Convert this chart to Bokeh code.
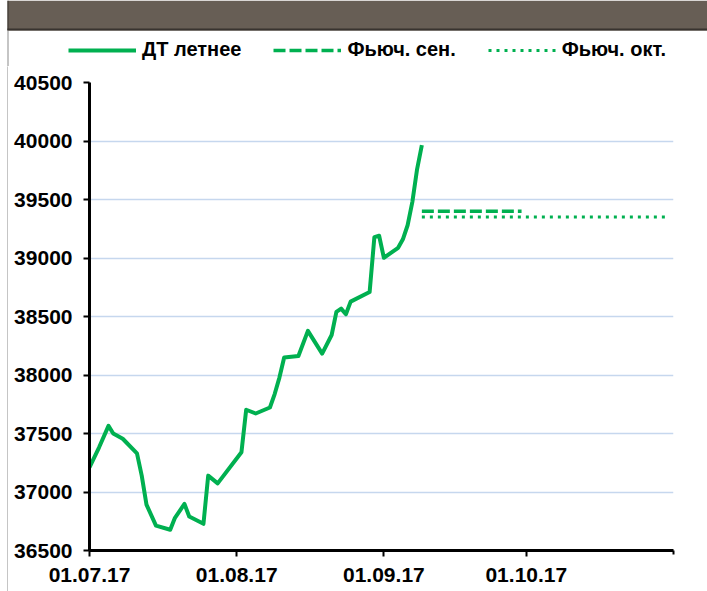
import pandas as pd
from bokeh.plotting import figure
from bokeh.models import (Range1d, FixedTicker, Legend, LegendItem, BoxAnnotation,
                          DatetimeTickFormatter)
from bokeh.layouts import column, row
from bokeh.embed import file_html
from bokeh.resources import INLINE

# ---------------- data ----------------
dt_dates = ["2017-07-01", "2017-07-03", "2017-07-05", "2017-07-06", "2017-07-08",
            "2017-07-11", "2017-07-12", "2017-07-13", "2017-07-15", "2017-07-18",
            "2017-07-19", "2017-07-21", "2017-07-22", "2017-07-25", "2017-07-26",
            "2017-07-28", "2017-08-02", "2017-08-03", "2017-08-05", "2017-08-08",
            "2017-08-09", "2017-08-10", "2017-08-11", "2017-08-14", "2017-08-16",
            "2017-08-19", "2017-08-21", "2017-08-22", "2017-08-23", "2017-08-24",
            "2017-08-25", "2017-08-29", "2017-08-30", "2017-08-31", "2017-09-01",
            "2017-09-04", "2017-09-05", "2017-09-06", "2017-09-07", "2017-09-08",
            "2017-09-09"]
dt_values = [37210, 37380, 37565, 37500, 37455,
             37330, 37140, 36892, 36713, 36677,
             36779, 36898, 36790, 36728, 37140,
             37074, 37339, 37703, 37671, 37722,
             37837, 37978, 38149, 38163, 38377,
             38183, 38342, 38539, 38567, 38519,
             38627, 38709, 39178, 39190, 39002,
             39087, 39160, 39280, 39480, 39760,
             39965]

fut_sep_dates = ["2017-09-09", "2017-09-30"]
fut_sep_values = [39400, 39400]
fut_oct_dates = ["2017-09-09", "2017-10-31"]
fut_oct_values = [39350, 39350]

series_names = ["ДТ летнее", "Фьюч. сен.", "Фьюч. окт."]

x_start = "2017-07-01"
x_end = "2017-11-01"
x_tick_dates = ["2017-07-01", "2017-08-01", "2017-09-01", "2017-10-01"]
x_tick_labels = ["01.07.17", "01.08.17", "01.09.17", "01.10.17"]
y_ticks = [36500, 37000, 37500, 38000, 38500, 39000, 39500, 40000, 40500]

GREEN = "#00b050"
FONT = "Liberation Sans"
SEP_STYLE = dict(line_color=GREEN, line_width=3.5, line_dash="12 4")
OCT_STYLE = dict(line_color=GREEN, line_width=3, line_dash="3 5")
DT_STYLE = dict(line_color=GREEN, line_width=4, line_join="round")
HEADER_BG = "#675e55"
HEADER_EDGE = "#38332f"
FRAME_GREY = "#8c8c8c"


def ms(s):
    return float(pd.Timestamp(s).value // 10**6)


def bare(w, h, **kw):
    f = figure(width=w, height=h, output_backend="svg", toolbar_location=None,
               x_axis_location=None, y_axis_location=None, **kw)
    f.outline_line_color = None
    f.xgrid.visible = False
    f.ygrid.visible = False
    return f


# ---------------- top strip: header bar + legend ----------------
TOP_W, TOP_H = 707, 66
top = bare(TOP_W, TOP_H, min_border=0, x_range=Range1d(0, TOP_W),
           y_range=Range1d(0, TOP_H), background_fill_color="white",
           border_fill_color="white")
top.add_layout(BoxAnnotation(left=7, right=TOP_W, bottom=TOP_H - 30, top=TOP_H,
                             fill_color=HEADER_BG, fill_alpha=1, line_color=None))
top.add_layout(BoxAnnotation(left=7, right=TOP_W, bottom=TOP_H - 30, top=TOP_H - 28,
                             fill_color=HEADER_EDGE, fill_alpha=1, line_color=None))
top.add_layout(BoxAnnotation(left=7, right=8, bottom=TOP_H - 30, top=TOP_H,
                             fill_color=HEADER_EDGE, fill_alpha=1, line_color=None))
top.add_layout(BoxAnnotation(left=7, right=8, bottom=0, top=TOP_H - 30,
                             fill_color=FRAME_GREY, fill_alpha=1, line_color=None))

nan = float("nan")
k_dt = top.line(x=[nan], y=[nan], **DT_STYLE)
k_sep = top.line(x=[nan], y=[nan], **SEP_STYLE)
k_oct = top.line(x=[nan], y=[nan], **OCT_STYLE)
legend = Legend(items=[LegendItem(label=series_names[0], renderers=[k_dt]),
                       LegendItem(label=series_names[1], renderers=[k_sep]),
                       LegendItem(label=series_names[2], renderers=[k_oct])],
                orientation="horizontal", location=(68, 5),
                glyph_width=68, glyph_height=20, label_standoff=6, spacing=32,
                padding=0, margin=0, border_line_color=None,
                background_fill_alpha=0,
                label_text_font=FONT, label_text_font_style="bold",
                label_text_font_size="20px", label_text_color="black")
top.add_layout(legend)

# thin grey frame line on the left (x = 7)
rule = bare(8, 525, min_border_left=7, min_border_right=0, min_border_top=0,
            min_border_bottom=0, x_range=Range1d(0, 1), y_range=Range1d(0, 1),
            background_fill_color=FRAME_GREY, border_fill_color="white")

# ---------------- main figure ----------------
p = figure(width=699, height=525, output_backend="svg", toolbar_location=None,
           x_axis_type="datetime",
           x_range=Range1d(ms(x_start), ms(x_end)),
           y_range=Range1d(y_ticks[0], y_ticks[-1]),
           min_border_left=81, min_border_right=34,
           min_border_top=16, min_border_bottom=41)
p.outline_line_color = None
p.background_fill_color = "white"
p.border_fill_color = "white"

p.line(x=[ms(d) for d in dt_dates], y=dt_values, **DT_STYLE)
p.line(x=[ms(d) for d in fut_sep_dates], y=fut_sep_values, **SEP_STYLE)
p.line(x=[ms(d) for d in fut_oct_dates], y=fut_oct_values, **OCT_STYLE)

# grid
p.xgrid.grid_line_color = None
p.ygrid.grid_line_color = "#c6d7ee"
p.ygrid.grid_line_width = 1.6

# x axis
xa = p.xaxis[0]
xa.ticker = FixedTicker(ticks=[ms(d) for d in x_tick_dates], minor_ticks=[ms(x_end)])
xa.formatter = DatetimeTickFormatter(days="%d.%m.%y", months="%d.%m.%y",
                                     years="%d.%m.%y", hours="%d.%m.%y")
xa.major_label_overrides = {ms(d): lab for d, lab in zip(x_tick_dates, x_tick_labels)}
xa.axis_line_color = "black"
xa.axis_line_width = 3
xa.major_tick_in = 0
xa.major_tick_out = 6
xa.major_tick_line_width = 2
xa.minor_tick_in = 0
xa.minor_tick_out = 4
xa.minor_tick_line_width = 2
xa.major_label_standoff = 11
xa.major_label_text_font = FONT
xa.major_label_text_font_style = "bold"
xa.major_label_text_font_size = "21px"
xa.major_label_text_color = "black"

# y axis
ya = p.yaxis[0]
ya.ticker = FixedTicker(ticks=y_ticks)
ya.axis_line_color = "black"
ya.axis_line_width = 3
ya.major_tick_in = 0
ya.major_tick_out = 6
ya.major_tick_line_width = 2
ya.minor_tick_line_color = None
ya.major_label_standoff = 11
ya.major_label_text_font = FONT
ya.major_label_text_font_style = "bold"
ya.major_label_text_font_size = "21px"
ya.major_label_text_color = "black"

layout = column(top, row(rule, column(p, spacing=0), spacing=0), spacing=0)

with open("out.html", "w") as f:
    f.write(file_html(layout, INLINE))
